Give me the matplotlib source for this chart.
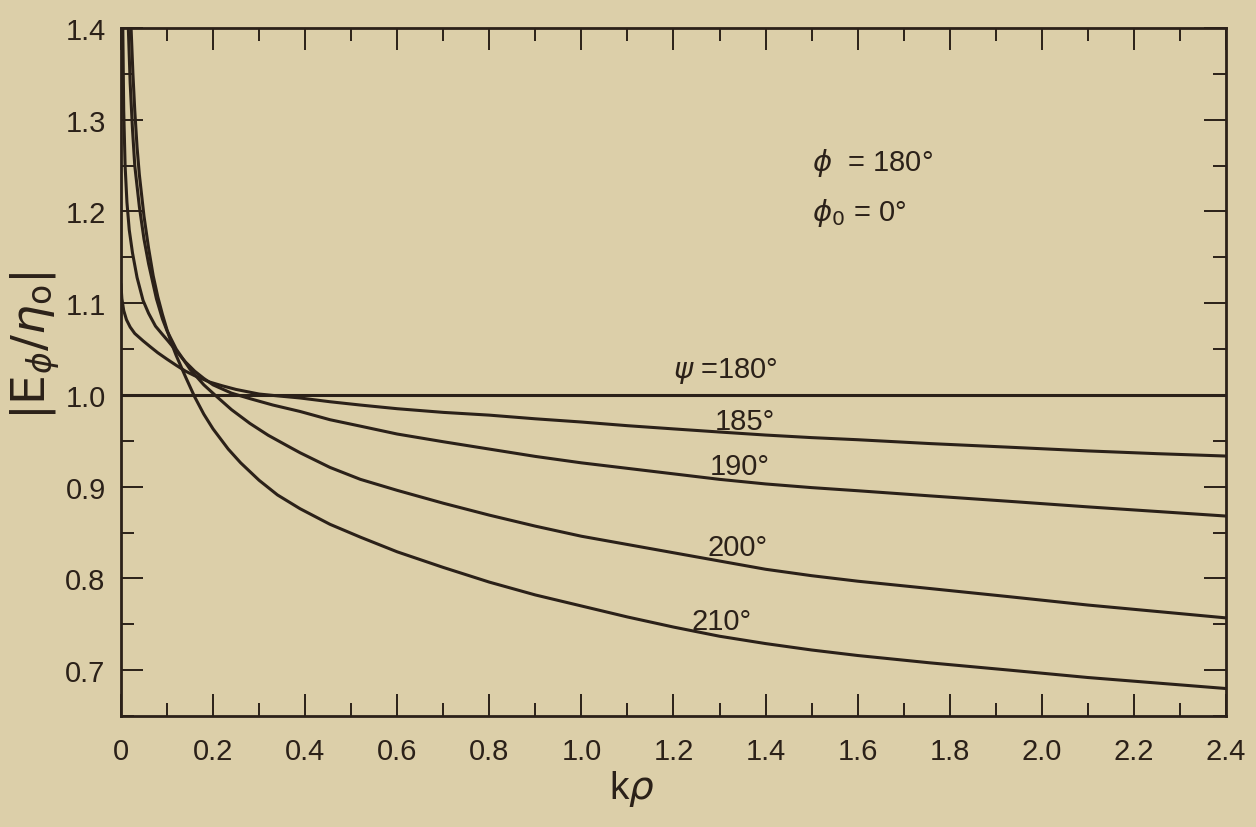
import matplotlib
matplotlib.use("Agg")
import matplotlib.pyplot as plt
from matplotlib.ticker import MultipleLocator

# valores (k*rho, |E_phi/eta_0|)
kp_185 = [0.0, 0.002, 0.006, 0.012, 0.02, 0.03, 0.048, 0.065, 0.08, 0.1, 0.121, 0.14,
          0.16, 0.193, 0.22, 0.25, 0.3, 0.34, 0.389, 0.454, 0.52, 0.6, 0.7, 0.8, 0.9,
          1.0, 1.1, 1.2, 1.3, 1.4, 1.5, 1.6, 1.757, 1.931, 2.1, 2.25, 2.4]
e_185 = [1.12, 1.105, 1.092, 1.082, 1.074, 1.067, 1.059, 1.052, 1.046, 1.039, 1.032, 1.026,
         1.021, 1.014, 1.010, 1.006, 1.001, 0.999, 0.9967, 0.9926, 0.989, 0.985, 0.981, 0.978, 0.974,
         0.9705, 0.9665, 0.963, 0.9596, 0.9563, 0.9535, 0.9512, 0.947, 0.943, 0.939, 0.936, 0.9334]

kp_190 = [0.004, 0.006, 0.009, 0.013, 0.018, 0.025, 0.035, 0.048, 0.06, 0.075, 0.09, 0.102,
          0.12, 0.14, 0.16, 0.18, 0.2, 0.24, 0.28, 0.33, 0.389, 0.454, 0.52, 0.6, 0.7,
          0.8, 0.9, 1.0, 1.1, 1.2, 1.3, 1.4, 1.5, 1.6, 1.757, 1.931, 2.1, 2.25, 2.4]
e_190 = [1.40, 1.31, 1.25, 1.21, 1.18, 1.155, 1.128, 1.103, 1.089, 1.075, 1.066, 1.059,
         1.048, 1.036, 1.026, 1.018, 1.011, 1.002, 0.996, 0.989, 0.982, 0.973, 0.966, 0.9574, 0.949,
         0.941, 0.933, 0.926, 0.920, 0.914, 0.908, 0.903, 0.899, 0.8956, 0.890, 0.884, 0.878, 0.873, 0.868]

kp_200 = [0.016, 0.02, 0.025, 0.03, 0.04, 0.05, 0.06, 0.077, 0.09, 0.1, 0.12, 0.15,
          0.18, 0.204, 0.24, 0.28, 0.32, 0.367, 0.389, 0.454, 0.52, 0.6, 0.7, 0.8, 0.9,
          1.0, 1.1, 1.2, 1.3, 1.4, 1.5, 1.6, 1.757, 1.931, 2.1, 2.25, 2.4]
e_200 = [1.40, 1.34, 1.29, 1.25, 1.205, 1.17, 1.143, 1.105, 1.083, 1.07, 1.05, 1.028,
         1.011, 1.0, 0.984, 0.969, 0.956, 0.943, 0.937, 0.921, 0.908, 0.896, 0.882, 0.869, 0.857,
         0.846, 0.837, 0.828, 0.819, 0.810, 0.803, 0.797, 0.789, 0.780, 0.771, 0.764, 0.757]

kp_210 = [0.022, 0.026, 0.03, 0.035, 0.04, 0.05, 0.06, 0.07, 0.08, 0.09, 0.1, 0.11,
          0.12, 0.14, 0.16, 0.18, 0.2, 0.233, 0.26, 0.3, 0.34, 0.389, 0.454, 0.52, 0.6,
          0.7, 0.8, 0.9, 1.0, 1.1, 1.2, 1.3, 1.4, 1.5, 1.6, 1.757, 1.931, 2.1, 2.25, 2.4]
e_210 = [1.40, 1.35, 1.31, 1.27, 1.24, 1.195, 1.16, 1.13, 1.107, 1.088, 1.071, 1.056,
         1.043, 1.02, 0.998, 0.979, 0.963, 0.941, 0.926, 0.907, 0.891, 0.876, 0.859, 0.845, 0.829,
         0.812, 0.796, 0.782, 0.770, 0.758, 0.747, 0.737, 0.729, 0.722, 0.716, 0.708, 0.700, 0.692, 0.686, 0.680]

kp_180 = [0.0, 2.4]
e_180 = [1.0, 1.0]

xticks = [0, 0.2, 0.4, 0.6, 0.8, 1.0, 1.2, 1.4, 1.6, 1.8, 2.0, 2.2, 2.4]
xlabels = ['0', '0.2', '0.4', '0.6', '0.8', '1.0', '1.2', '1.4', '1.6', '1.8', '2.0', '2.2', '2.4']
yticks = [0.7, 0.8, 0.9, 1.0, 1.1, 1.2, 1.3, 1.4]
ylabels = ['0.7', '0.8', '0.9', '1.0', '1.1', '1.2', '1.3', '1.4']

fundo = '#dccfa9'
tinta = '#2b2119'
plt.rcParams['font.family'] = ['Liberation Sans', 'DejaVu Sans']
plt.rcParams['mathtext.fontset'] = 'dejavusans'

fig = plt.figure(figsize=(12.56, 8.28), dpi=100, facecolor=fundo)
ax = fig.add_axes([0.0963, 0.134, 0.8798, 0.831])
ax.set_facecolor(fundo)

for x, y in [(kp_180, e_180), (kp_185, e_185), (kp_190, e_190), (kp_200, e_200), (kp_210, e_210)]:
    ax.plot(x, y, color=tinta, lw=2.2, solid_joinstyle='round')

ax.set_xlim(0, 2.4)
ax.set_ylim(0.65, 1.4)
ax.set_xticks(xticks)
ax.set_xticklabels(xlabels)
ax.set_yticks(yticks)
ax.set_yticklabels(ylabels)
ax.xaxis.set_minor_locator(MultipleLocator(0.1))
ax.yaxis.set_minor_locator(MultipleLocator(0.05))
ax.tick_params(which='both', direction='in', top=True, right=True, color=tinta,
               labelsize=21, labelcolor=tinta)
ax.tick_params(axis='x', pad=15)
ax.tick_params(axis='y', pad=11)
ax.tick_params(which='major', length=16, width=1.4)
ax.tick_params(which='minor', length=9.5, width=1.4)
for s in ax.spines.values():
    s.set_color(tinta)
    s.set_linewidth(2.0)

ax.set_xlabel(r'k$\rho$', fontsize=28, color=tinta)
ax.xaxis.set_label_coords(0.462, -0.075)
ax.set_ylabel(r'$|\mathrm{E}_\phi/\eta_\mathrm{o}|$', fontsize=34, color=tinta)
ax.yaxis.set_label_coords(-0.078, 0.54)
ax.yaxis.label.set_va('center')

# rotulos das curvas
ax.text(1.312, 1.027, r'$\psi$ =180°', fontsize=21, color=tinta, ha='center', va='center')
ax.text(1.355, 0.972, '185°', fontsize=21, color=tinta, ha='center', va='center')
ax.text(1.344, 0.9225, '190°', fontsize=21, color=tinta, ha='center', va='center')
ax.text(1.340, 0.834, '200°', fontsize=21, color=tinta, ha='center', va='center')
ax.text(1.305, 0.754, '210°', fontsize=21, color=tinta, ha='center', va='center')

ax.text(1.501, 1.254, r'$\phi$  = 180°', fontsize=21, color=tinta, ha='left', va='center')
ax.text(1.501, 1.199, r'$\phi_0$ = 0°', fontsize=21, color=tinta, ha='left', va='center')

fig.savefig('out.png', dpi=100, facecolor=fundo)
